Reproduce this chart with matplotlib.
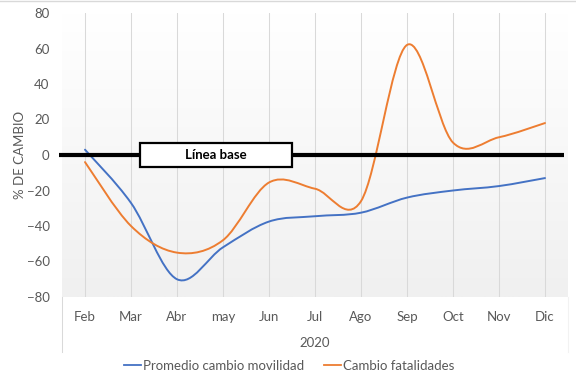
import numpy as np
import matplotlib
matplotlib.use("Agg")
import matplotlib.pyplot as plt
from matplotlib.path import Path
from matplotlib.patches import PathPatch, Rectangle
from matplotlib.lines import Line2D
from matplotlib.colors import LinearSegmentedColormap

months = ["Feb", "Mar", "Abr", "may", "Jun", "Jul", "Ago", "Sep", "Oct", "Nov", "Dic"]
movilidad = [3, -27, -70, -52, -37.5, -34.5, -32.5, -24, -20, -17.5, -13]
fatalidades = [-4, -40, -55, -48, -15.5, -19, -26, 62, 7, 10, 18]
yticks = [-80, -60, -40, -20, 0, 20, 40, 60, 80]
year_label = "2020"
series_names = ["Promedio cambio movilidad", "Cambio fatalidades"]

BLUE = "#4472C4"
ORANGE = "#ED7D31"
GRAY = "#595959"
FS = 9.5

plt.rcParams['font.family'] = ['Lato', 'DejaVu Sans']

W, H = 576, 382
fig = plt.figure(figsize=(W / 100, H / 100), dpi=100)
L, R, T, B = 62, 568, 13, 297
ax = fig.add_axes([L / W, 1 - B / H, (R - L) / W, (B - T) / H])

# gradient background of plot area
grad = np.linspace(0, 1, 256).reshape(-1, 1)
cmap = LinearSegmentedColormap.from_list("g", ["#FFFFFF", "#F0F0F0"])
ax.imshow(grad, cmap=cmap, aspect="auto", extent=[0, 1, 0, 1], transform=ax.transAxes, zorder=0)


def smooth_path(xs, ys):
    pts = list(zip(xs, ys))
    n = len(pts)
    verts = [pts[0]]
    codes = [Path.MOVETO]
    for i in range(n - 1):
        p0 = np.array(pts[i - 1] if i > 0 else pts[i], float)
        p1 = np.array(pts[i], float)
        p2 = np.array(pts[i + 1], float)
        p3 = np.array(pts[i + 2] if i + 2 < n else pts[i + 1], float)
        c1 = p1 + (p2 - p0) / 6.0
        c2 = p2 - (p3 - p1) / 6.0
        verts += [tuple(c1), tuple(c2), tuple(p2)]
        codes += [Path.CURVE4] * 3
    return Path(verts, codes)


x = np.arange(len(months))
for vals, col in [(movilidad, BLUE), (fatalidades, ORANGE)]:
    patch = PathPatch(smooth_path(x, vals), fill=False, edgecolor=col, lw=1.4,
                      transform=ax.transData, zorder=3, capstyle="round", joinstyle="round")
    ax.add_patch(patch)

ax.set_xlim(-0.5, len(months) - 0.5)
ax.set_ylim(-80, 80)
ax.set_xticks(x)
ax.set_xticklabels(months)
ax.set_yticks(yticks)
ax.tick_params(axis="both", length=0, colors=GRAY, labelsize=FS)
ax.tick_params(axis="x", pad=10)
ax.tick_params(axis="y", pad=9)
for s in ax.spines.values():
    s.set_visible(False)
ax.grid(axis="x", color="#D9D9D9", lw=0.75, zorder=1)
ax.grid(axis="y", visible=False)
ax.set_axisbelow(True)

# base line
ax.add_line(Line2D([-3 / (R - L), (564 - L) / (R - L)], [0, 0], color="black", lw=3,
                   transform=ax.get_yaxis_transform(), zorder=4, clip_on=False, solid_capstyle="butt"))
bx0, bx1 = (140 - L) / (R - L), (292 - L) / (R - L)
by0, by1 = (B - 167) / (B - T), (B - 143) / (B - T)
ax.add_patch(Rectangle((bx0, by0), bx1 - bx0, by1 - by0, transform=ax.transAxes,
                       facecolor="white", edgecolor="black", lw=1.6, zorder=5))
ax.text((bx0 + bx1) / 2, (by0 + by1) / 2, "Línea base", transform=ax.transAxes,
        ha="center", va="center", fontsize=FS, fontweight="bold", color="black", zorder=6)

# y label
fig.text(20 / W, 1 - 155 / H, "% DE CAMBIO", rotation=90, ha="center", va="center",
         fontsize=FS, color=GRAY)
# year label
fig.text((L + R) / 2 / W, 1 - 343 / H, year_label, ha="center", va="center", fontsize=FS, color=GRAY)
# category axis border lines
fig.add_artist(Line2D([L / W, L / W], [1 - B / H, 1 - 352 / H], color="#D9D9D9", lw=0.75))
fig.add_artist(Line2D([R / W, R / W], [1 - B / H, 1 - 352 / H], color="#F2F2F2", lw=0.75))
# top border
fig.add_artist(Line2D([0, 1], [1 - 0.5 / H, 1 - 0.5 / H], color="#D9D9D9", lw=1.0))

handles = [Line2D([], [], color=BLUE, lw=1.3), Line2D([], [], color=ORANGE, lw=1.3)]
fig.legend(handles, series_names, loc="center", bbox_to_anchor=(289 / W, 1 - 366 / H), ncol=2,
           frameon=False, fontsize=FS, labelcolor=GRAY, handlelength=1.3, handletextpad=0.15,
           columnspacing=1.5, borderaxespad=0)

fig.savefig("out.png", dpi=100)
